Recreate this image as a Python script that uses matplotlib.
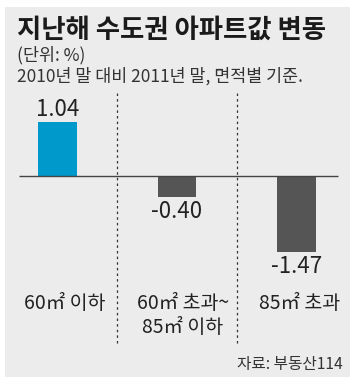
import matplotlib
matplotlib.use('Agg')
import matplotlib.pyplot as plt
from matplotlib.patches import Rectangle

plt.rcParams['font.family'] = ['Noto Sans CJK KR', 'DejaVu Sans']

# Daten
kategorien = ['60㎡ 이하', '60㎡ 초과~\n85㎡ 이하', '85㎡ 초과']
werte = [1.04, -0.40, -1.47]
beschriftung = ['1.04', '-0.40', '-1.47']
farben = ['#0099cc', '#555555', '#555555']

titel = '지난해 수도권 아파트값 변동'
einheit = '(단위: %)'
untertitel = '2010년 말 대비 2011년 말, 면적별 기준.'
quelle = '자료: 부동산114'

W, H = 350, 381
fig = plt.figure(figsize=(W / 100, H / 100), dpi=100)
fig.patch.set_facecolor('white')

# grauer Hintergrund
fig.patches.append(Rectangle((5 / W, 1 - 377 / H), (W - 5) / W, (377 - 7) / H,
                             transform=fig.transFigure, facecolor='#ececec',
                             edgecolor='none', zorder=-5))

# Achse ueber die ganze Figur, Skala so gewaehlt dass Balken richtig liegen
ax = fig.add_axes([0, 0, 1, 1])
ax.set_facecolor('none')
ax.set_xlim(-57.5 / 119.5, (W - 57.5) / 119.5)
ax.set_ylim((176 - H) / 51.5, 176 / 51.5)
ax.axis('off')

x = list(range(len(werte)))
ax.bar(x, werte, width=0.32, color=farben, zorder=2)

# Nulllinie
ax.hlines(0, -0.322, 2.347, color='#444444', linewidth=1.0, zorder=3)

# gepunktete Trennlinien
for xs in [0.5, 1.5]:
    ax.vlines(xs, (176 - 343) / 51.5, (176 - 93) / 51.5, color='#333333',
              linewidth=0.9, linestyles=(0, (2, 2.5)), zorder=1)

# Wertebeschriftung
for i, v in enumerate(werte):
    if v >= 0:
        ax.text(i, v + 0.03, beschriftung[i], ha='center', va='bottom',
                fontsize=16, color='#222222')
    else:
        ax.text(i, v - 0.06, beschriftung[i], ha='center', va='top',
                fontsize=16, color='#222222')

# Kategorien
kat_x = [65 / W, 183 / W, 300 / W]
for i, k in enumerate(kategorien):
    fig.text(kat_x[i], 1 - 293 / H, k, ha='center', va='top', fontsize=14,
             color='#222222', linespacing=1.2)

# Titel
fig.text(17 / W, 1 - 30 / H, titel, ha='left', va='center', fontsize=19,
         fontweight='bold', color='#1a1a1a')
fig.text(17 / W, 1 - 55 / H, einheit, ha='left', va='center', fontsize=12.5,
         color='#333333')
fig.text(17 / W, 1 - 76 / H, untertitel, ha='left', va='center', fontsize=12.5,
         color='#333333')
fig.text(343 / W, 1 - 365 / H, quelle, ha='right', va='center', fontsize=11.3,
         color='#333333')

fig.savefig('out.png', dpi=100)
